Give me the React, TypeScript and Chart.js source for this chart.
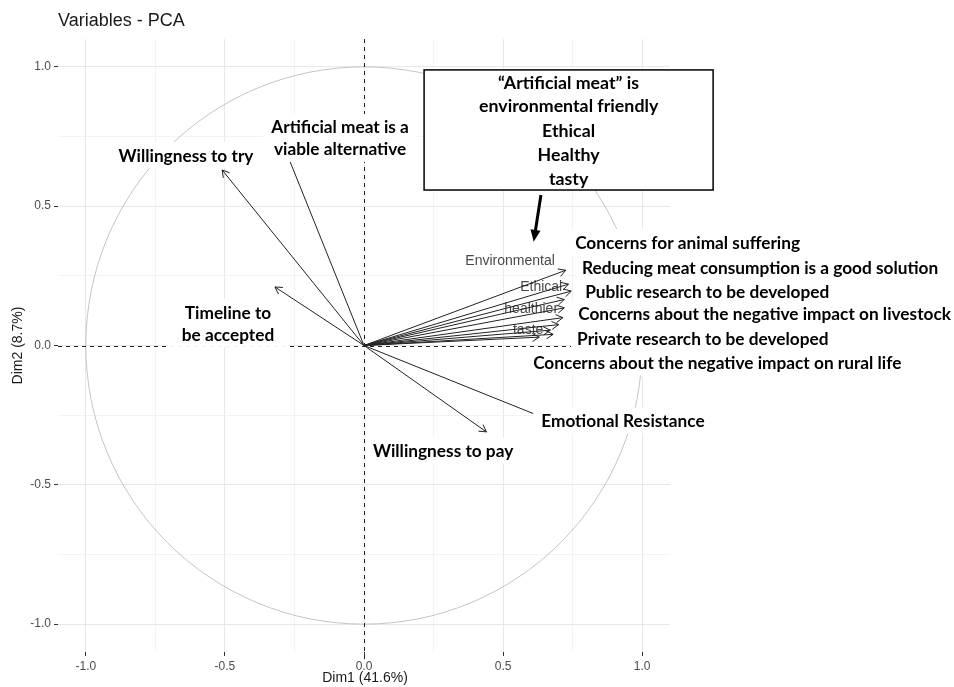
import React, { useEffect, useRef } from "react";
import { Chart, registerables } from "chart.js";

Chart.register(...registerables);

// ---- data ----
const variables = [
  "Willingness to try",
  "Artificial meat is a viable alternative",
  "Timeline to be accepted",
  "Willingness to pay",
  "Emotional Resistance",
  "Environmental",
  "Ethical",
  "Concerns for animal suffering",
  "Reducing meat consumption is a good solution",
  "Public research to be developed",
  "healthier",
  "Concerns about the negative impact on livestock",
  "taste",
  "Private research to be developed",
  "Concerns about the negative impact on rural life",
];
const dim1 = [-0.51, -0.29, -0.32, 0.44, 0.66, 0.725, 0.735, 0.745, 0.72, 0.72, 0.715, 0.70, 0.67, 0.68, 0.63];
const dim2 = [0.63, 0.72, 0.21, -0.31, -0.265, 0.27, 0.22, 0.195, 0.165, 0.135, 0.10, 0.075, 0.055, 0.04, 0.03];

const tickValues = [-1, -0.75, -0.5, -0.25, 0, 0.25, 0.5, 0.75, 1];
const axisMin = -1.1;
const axisMax = 1.1;

const titleText = "Variables - PCA";
const xTitle = "Dim1 (41.6%)";
const yTitle = "Dim2 (8.7%)";

// small grey labels from the original plot (data coords of text centre)
const greyLabels = ["Environmental", "Ethical", "healthier", "taste"];
const greyLabelX = [0.525, 0.637, 0.601, 0.59];
const greyLabelY = [0.302, 0.21, 0.13, 0.054];

// pasted bold labels: lines, anchor (data coords), alignment, horizontal box padding
const boldLabels: { lines: string[]; x: number; y: number; align: CanvasTextAlign; pad: number }[] = [
  { lines: ["Willingness to try"], x: -0.64, y: 0.683, align: "center", pad: 10 },
  { lines: ["Artificial meat is a", "viable alternative"], x: -0.086, y: 0.745, align: "center", pad: 8 },
  { lines: ["Timeline to", "be accepted"], x: -0.489, y: 0.081, align: "center", pad: 14 },
  { lines: ["Emotional Resistance"], x: 0.637, y: -0.27, align: "left", pad: 8 },
  { lines: ["Willingness to pay"], x: 0.032, y: -0.378, align: "left", pad: 4 },
  { lines: ["Concerns for animal suffering"], x: 0.759, y: 0.371, align: "left", pad: 6 },
  { lines: ["Reducing meat consumption is a good solution"], x: 0.784, y: 0.281, align: "left", pad: 6 },
  { lines: ["Public research to be developed"], x: 0.795, y: 0.194, align: "left", pad: 6 },
  { lines: ["Concerns about the negative impact on livestock"], x: 0.77, y: 0.115, align: "left", pad: 6 },
  { lines: ["Private research to be developed"], x: 0.766, y: 0.025, align: "left", pad: 6 },
  { lines: ["Concerns about the negative impact on rural life"], x: 0.608, y: -0.061, align: "left", pad: 6 },
];

const boxLines = ["\u201CArtificial meat\u201D is", "environmental friendly", "Ethical", "Healthy", "tasty"];

const isMajor = (v: number) => Math.abs(v * 2 - Math.round(v * 2)) < 1e-9;

const BOLD_FAMILY = "Lato, 'Open Sans', sans-serif";
const PLAIN_FAMILY = "'Liberation Sans', Arial, sans-serif";

const overlayPlugin = {
  id: "overlay",
  beforeDatasetsDraw(chart: any) {
    const { ctx, chartArea, scales } = chart;
    const xs = scales.x;
    const ys = scales.y;
    const cx = xs.getPixelForValue(0);
    const cy = ys.getPixelForValue(0);
    const rx = xs.getPixelForValue(1) - cx;
    const ry = cy - ys.getPixelForValue(1);
    ctx.save();
    // correlation circle
    ctx.strokeStyle = "#c4c4c4";
    ctx.lineWidth = 1;
    ctx.beginPath();
    ctx.ellipse(cx, cy, rx, ry, 0, 0, Math.PI * 2);
    ctx.stroke();
    // dashed zero lines
    ctx.strokeStyle = "#222";
    ctx.setLineDash([4, 4]);
    ctx.beginPath();
    ctx.moveTo(Math.round(cx) + 0.5, chartArea.top);
    ctx.lineTo(Math.round(cx) + 0.5, chartArea.bottom + 8);
    ctx.moveTo(chartArea.left, Math.round(cy) + 0.5);
    ctx.lineTo(chartArea.right, Math.round(cy) + 0.5);
    ctx.stroke();
    ctx.setLineDash([]);
    // grey labels
    ctx.fillStyle = "#4a4a4a";
    ctx.font = `14px ${PLAIN_FAMILY}`;
    ctx.textAlign = "center";
    ctx.textBaseline = "middle";
    greyLabels.forEach((t, i) => {
      ctx.fillText(t, xs.getPixelForValue(greyLabelX[i]), ys.getPixelForValue(greyLabelY[i]));
    });
    ctx.restore();
  },
  afterDatasetsDraw(chart: any) {
    const { ctx, chartArea, scales } = chart;
    const xs = scales.x;
    const ys = scales.y;
    ctx.save();
    // arrowheads
    ctx.strokeStyle = "#222";
    ctx.lineWidth = 1;
    chart.data.datasets.forEach((_: any, i: number) => {
      const meta = chart.getDatasetMeta(i);
      const p0 = meta.data[0];
      const p1 = meta.data[1];
      const ang = Math.atan2(p1.y - p0.y, p1.x - p0.x);
      const L = 8;
      ctx.beginPath();
      ctx.moveTo(p1.x - L * Math.cos(ang - Math.PI / 6), p1.y - L * Math.sin(ang - Math.PI / 6));
      ctx.lineTo(p1.x, p1.y);
      ctx.lineTo(p1.x - L * Math.cos(ang + Math.PI / 6), p1.y - L * Math.sin(ang + Math.PI / 6));
      ctx.stroke();
    });

    // bold labels: fit font size
    ctx.font = `bold 100px ${BOLD_FAMILY}`;
    const ref = ctx.measureText("Concerns about the negative impact on livestock").width;
    const fs = (100 * 373) / ref;
    ctx.font = `bold ${fs}px ${BOLD_FAMILY}`;
    const lh = 22;
    const boxes = boldLabels.map((lab) => {
      const ax = xs.getPixelForValue(lab.x);
      const ay = ys.getPixelForValue(lab.y);
      const n = lab.lines.length;
      const w = Math.max(...lab.lines.map((l) => ctx.measureText(l).width));
      const firstY = ay - ((n - 1) * lh) / 2;
      const left = lab.align === "center" ? ax - w / 2 : ax;
      return { lab, ax, firstY, left, w, n };
    });
    ctx.fillStyle = "#fff";
    boxes.forEach((b) => {
      const top = b.firstY - lh / 2 - 2;
      const bottom = b.firstY + (b.n - 1) * lh + lh / 2 + 2;
      ctx.fillRect(b.left - b.lab.pad, top, b.w + b.lab.pad * 2, bottom - top);
    });
    ctx.fillStyle = "#000";
    ctx.textBaseline = "middle";
    boxes.forEach((b) => {
      ctx.textAlign = b.lab.align;
      b.lab.lines.forEach((l, k) => ctx.fillText(l, b.ax, b.firstY + k * lh + 1));
    });

    // annotation box
    const bx0 = xs.getPixelForValue(0.216);
    const bx1 = xs.getPixelForValue(1.255);
    const by0 = ys.getPixelForValue(0.989);
    const by1 = ys.getPixelForValue(0.558);
    ctx.fillStyle = "#fff";
    ctx.fillRect(bx0, by0, bx1 - bx0, by1 - by0);
    ctx.strokeStyle = "#000";
    ctx.lineWidth = 1.5;
    ctx.strokeRect(bx0, by0, bx1 - bx0, by1 - by0);
    ctx.fillStyle = "#000";
    ctx.textAlign = "center";
    ctx.font = `bold ${fs * 1.03}px ${BOLD_FAMILY}`;
    const bcx = (bx0 + bx1) / 2;
    const bLineY = [83, 106, 131, 155, 179];
    boxLines.forEach((l, k) => ctx.fillText(l, bcx, bLineY[k]));

    // thick pointer arrow
    const ax0 = xs.getPixelForValue(0.636);
    const ay0 = ys.getPixelForValue(0.54);
    const ax1 = xs.getPixelForValue(0.61);
    const ay1 = ys.getPixelForValue(0.372);
    const ang = Math.atan2(ay1 - ay0, ax1 - ax0);
    ctx.lineWidth = 3;
    ctx.beginPath();
    ctx.moveTo(ax0, ay0);
    ctx.lineTo(ax1 - 10 * Math.cos(ang), ay1 - 10 * Math.sin(ang));
    ctx.stroke();
    ctx.beginPath();
    ctx.moveTo(ax1, ay1);
    ctx.lineTo(ax1 - 13 * Math.cos(ang - 0.4), ay1 - 13 * Math.sin(ang - 0.4));
    ctx.lineTo(ax1 - 13 * Math.cos(ang + 0.4), ay1 - 13 * Math.sin(ang + 0.4));
    ctx.closePath();
    ctx.fill();

    // titles
    ctx.fillStyle = "#1a1a1a";
    ctx.font = `18px ${PLAIN_FAMILY}`;
    ctx.textAlign = "left";
    ctx.fillText(titleText, chartArea.left, 21);
    ctx.font = `14px ${PLAIN_FAMILY}`;
    ctx.textAlign = "center";
    ctx.fillText(xTitle, (chartArea.left + chartArea.right) / 2 + 1, 678);
    ctx.save();
    ctx.translate(18, (chartArea.top + chartArea.bottom) / 2);
    ctx.rotate(-Math.PI / 2);
    ctx.fillText(yTitle, 0, 0);
    ctx.restore();
    ctx.restore();
  },
};

function axisConfig(isX: boolean) {
  return {
    type: "linear" as const,
    min: axisMin,
    max: axisMax,
    afterBuildTicks: (s: any) => {
      s.ticks = tickValues.map((v) => ({ value: v }));
    },
    afterFit: (s: any) => {
      if (isX) s.height = 35;
      else s.width = 58;
    },
    border: { display: false },
    grid: {
      color: (c: any) => (c.tick && isMajor(c.tick.value) ? "#e8e8e8" : "#f0f0f0"),
      lineWidth: (c: any) => (c.tick && isMajor(c.tick.value) ? 1 : 0.8),
      tickColor: (c: any) => (c.tick && isMajor(c.tick.value) ? "#333" : "rgba(0,0,0,0)"),
      tickLength: 4,
      drawTicks: true,
    },
    ticks: {
      autoSkip: false,
      maxRotation: 0,
      padding: 3,
      color: "#4d4d4d",
      font: { size: 12, family: PLAIN_FAMILY },
      callback: (v: any) => (isMajor(Number(v)) ? Number(v).toFixed(1) : ""),
    },
  };
}

export default function App() {
  const ref = useRef<HTMLCanvasElement | null>(null);
  useEffect(() => {
    if (!ref.current) return;
    const datasets = variables.map((name, i) => ({
      label: name,
      data: [
        { x: 0, y: 0 },
        { x: dim1[i], y: dim2[i] },
      ],
      showLine: true,
      borderColor: "#222",
      borderWidth: 1,
      pointRadius: 0,
      pointHoverRadius: 0,
      fill: false,
    }));
    const chart = new Chart(ref.current, {
      type: "scatter",
      data: { datasets },
      options: {
        animation: false,
        responsive: false,
        maintainAspectRatio: false,
        layout: { padding: { left: 0, right: 284, top: 39, bottom: 0 } },
        plugins: { legend: { display: false }, tooltip: { enabled: false }, title: { display: false } },
        scales: { x: axisConfig(true), y: axisConfig(false) },
      },
      plugins: [overlayPlugin],
    } as any);
    return () => chart.destroy();
  }, []);
  return (
    <div style={{ position: "fixed", left: 0, top: 0, width: 954, height: 687, background: "#fff" }}>
      <canvas ref={ref} width={954} height={687} style={{ width: 954, height: 687, display: "block" }} />
    </div>
  );
}
